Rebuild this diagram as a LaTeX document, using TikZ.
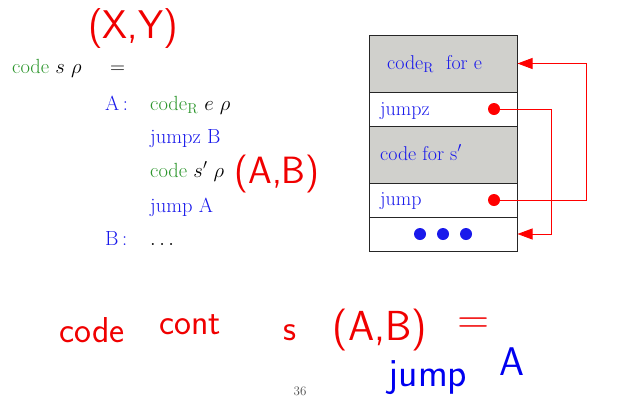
\documentclass[tikz,border=0pt]{standalone}
\usepackage{amsmath,amssymb}
\usepackage{xcolor}
\usetikzlibrary{arrows.meta,positioning}

\definecolor{codegreen}{RGB}{45,150,45}
\definecolor{instblue}{RGB}{25,25,235}
\definecolor{rowgray}{RGB}{208,208,204}
\definecolor{inkred}{RGB}{240,0,0}
\definecolor{inkblue}{RGB}{0,0,240}

\tikzset{
  txt/.style={anchor=base west,inner sep=0pt,font=\fontsize{20.5}{23}\selectfont},
  boxtxt/.style={anchor=base west,inner sep=0pt,text=instblue,font=\fontsize{20}{22}\selectfont},
  row/.style={draw=black!85,line width=1pt,minimum width=148pt,inner sep=0pt},
  reddot/.style={circle,fill=red,inner sep=0pt,minimum size=12pt},
  bluedot/.style={circle,fill=instblue,inner sep=0pt,minimum size=12pt},
  link/.style={draw=red,line width=0.9pt,-{Triangle[length=15pt,width=11pt]}},
  ink/.style={inner sep=0pt,font=\fontsize{#1}{#1}\selectfont\sffamily}
}

\begin{document}
\begin{tikzpicture}[x=1pt,y=-1pt]
  \useasboundingbox (0,0) rectangle (632,397);
  % the program text
  \node[txt] (lhs) at (12,73) {\textcolor{codegreen}{code} $s\ \rho$};
  \node[txt] (eq) at (110,73) {$=$};
  \node[txt,text=instblue] (labA) at (105,110) {A\,:};
  \node[txt] (l1) at (150,110) {\textcolor{codegreen}{code$_{\text{R}}$} $e\ \rho$};
  \node[txt,text=instblue] (l2) at (150,143) {jumpz B};
  \node[txt] (l3) at (150,177) {\textcolor{codegreen}{code} $s'\ \rho$};
  \node[txt,text=instblue] (l4) at (150,212) {jump A};
  \node[txt,text=instblue] (labB) at (105,245) {B\,:};
  \node[txt] (l5) at (150,245) {$\ldots$};

  % the code layout
  \node[row,fill=rowgray,minimum height=57pt] (r1) at (443,63.5) {};
  \node[row,minimum height=34pt] (r2) at (443,109) {};
  \node[row,fill=rowgray,minimum height=57pt] (r3) at (443,154.5) {};
  \node[row,minimum height=34pt] (r4) at (443,200) {};
  \node[row,minimum height=34pt] (r5) at (443,234) {};
  \node[boxtxt] (t1) at (387,69) {code$_{\text{R}}$\ \ for e};
  \node[boxtxt] (t2) at (380,115) {jumpz};
  \node[boxtxt] (t3) at (380,160) {code for s$'$};
  \node[boxtxt] (t4) at (380,205) {jump};
  \foreach \x/\n in {420/a,443/b,466/c}
    {\node[bluedot] (dot\n) at (\x,234) {};}
  \node[reddot] (jz) at (494,109) {};
  \node[reddot] (jp) at (494,200) {};

  \coordinate (outer) at (586,63.5);
  \coordinate (inner) at (551,234);
  \draw[link] (jp) -| (outer) -- (r1.east);
  \draw[link] (jz) -| (inner) -- (r5.east);

  % handwritten notes
  \node[ink=40,text=inkred] (xy) at (133,29) {(X,Y)};
  \node[ink=38,text=inkred] (ab) at (277,174) {(A,B)};
  \node[ink=36,text=inkred] (w1) at (92,330) {code};
  \node[ink=36,text=inkred] (w2) at (190,325) {cont};
  \node[ink=36,text=inkred] (w3) at (290,333) {s};
  \node[ink=42,text=inkred] (w4) at (380,330) {(A,B)};
  \node[ink=44,text=inkred] (w5) at (474,326) {=};
  \node[ink=40,text=inkblue] (w6) at (428,378) {jump};
  \node[ink=40,text=inkblue] (w7) at (512,362) {A};

  \node[inner sep=0pt,text=black!70,font=\fontsize{13}{14}\selectfont] (page) at (300,391) {36};
\end{tikzpicture}
\end{document}
